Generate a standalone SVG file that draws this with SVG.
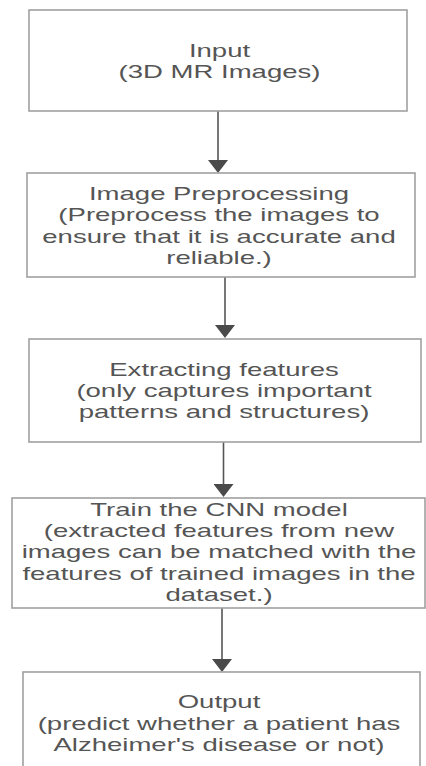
<svg xmlns="http://www.w3.org/2000/svg" width="426" height="766" viewBox="0 0 426 766">
<style>
.box{fill:#ffffff;stroke:#a0a0a0;stroke-width:1.6}
.t{font-family:"Liberation Sans",Arial,sans-serif;font-size:18px;fill:#555555;text-anchor:middle}
.edge{stroke:#555555;stroke-width:1.6;fill:none}
</style>
<defs>
<marker id="arrow" viewBox="0 0 13 20" markerWidth="13" markerHeight="20" refX="9" refY="10" orient="auto" markerUnits="userSpaceOnUse">
<path d="M0,0 L13,10 L0,20 Z" fill="#4a4a4a"/>
</marker>
</defs>
<rect width="426" height="766" fill="#ffffff"/>
<g id="edges">
<line class="edge" x1="218" y1="111" x2="218" y2="169" marker-end="url(#arrow)"/>
<line class="edge" x1="225" y1="277" x2="225" y2="334" marker-end="url(#arrow)"/>
<line class="edge" x1="223.5" y1="436" x2="223.5" y2="493" marker-end="url(#arrow)"/>
<line class="edge" x1="222" y1="608" x2="222" y2="668" marker-end="url(#arrow)"/>
</g>
<g id="input">
<rect class="box" x="29" y="10" width="378" height="101"/>
<g transform="translate(219.5,0) scale(1.53,1)">
<text class="t"><tspan x="0" y="57">Input</tspan><tspan x="0" y="78">(3D MR Images)</tspan></text>
</g>
</g>
<g id="preprocessing">
<rect class="box" x="27" y="173" width="388" height="104"/>
<g transform="translate(219,0) scale(1.53,1)">
<text class="t"><tspan x="0" y="200">Image Preprocessing</tspan><tspan x="0" y="221.5">(Preprocess the images to</tspan><tspan x="0" y="243">ensure that it is accurate and</tspan><tspan x="0" y="264">reliable.)</tspan></text>
</g>
</g>
<g id="extracting">
<rect class="box" x="29" y="339" width="392" height="103"/>
<g transform="translate(224,0) scale(1.53,1)">
<text class="t"><tspan x="0" y="376">Extracting features</tspan><tspan x="0" y="397">(only captures important</tspan><tspan x="0" y="418">patterns and structures)</tspan></text>
</g>
</g>
<g id="train">
<rect class="box" x="12" y="498" width="413" height="110"/>
<g transform="translate(219,0) scale(1.53,1)">
<text class="t"><tspan x="0" y="516">Train the CNN model</tspan><tspan x="0" y="537">(extracted features from new</tspan><tspan x="0" y="558.5">images can be matched with the</tspan><tspan x="0" y="580">features of trained images in the</tspan><tspan x="0" y="601">dataset.)</tspan></text>
</g>
</g>
<g id="output">
<rect class="box" x="23" y="672" width="397" height="110"/>
<g transform="translate(219,0) scale(1.53,1)">
<text class="t"><tspan x="0" y="708">Output</tspan><tspan x="0" y="730">(predict whether a patient has</tspan><tspan x="0" y="751">Alzheimer's disease or not)</tspan></text>
</g>
</g>
</svg>
